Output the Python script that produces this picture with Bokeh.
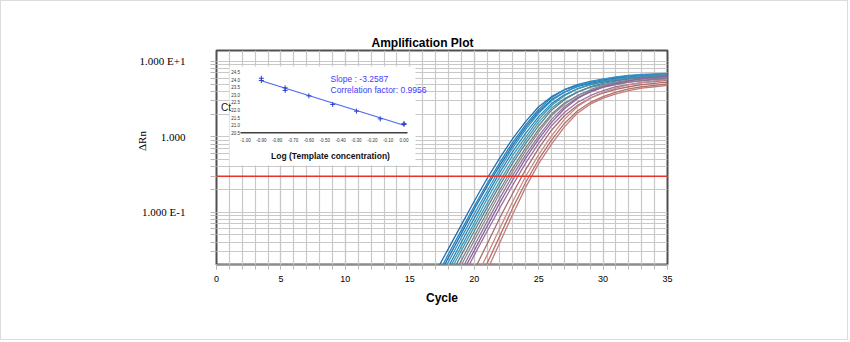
import numpy as np
from bokeh.plotting import figure
from bokeh.models import (Range1d, LinearScale, FixedTicker, SingleIntervalTicker,
                          Span, Title)
from bokeh.core.properties import value
from bokeh.embed import file_html
from bokeh.resources import INLINE

# ---------------- data ----------------
TITLE = "Amplification Plot"
X_LABEL = "Cycle"
Y_LABEL = "ΔRn"
X_TICKS = [0, 5, 10, 15, 20, 25, 30, 35]
Y_TICKS = [0.1, 1, 10]
Y_TICK_LABELS = ["1.000 E-1", "1.000", "1.000 E+1"]
THRESHOLD = 0.3

CYCLES = list(range(16, 36))
CURVE_01 = [0.0075, 0.016, 0.033, 0.068, 0.14, 0.28, 0.53, 0.95, 1.6, 2.5, 3.4, 4.2, 4.8, 5.3, 5.7, 6.0, 6.2, 6.4, 6.5, 6.6]
CURVE_02 = [0.0065, 0.013, 0.028, 0.058, 0.12, 0.24, 0.46, 0.85, 1.45, 2.3, 3.3, 4.2, 4.9, 5.4, 5.8, 6.1, 6.4, 6.6, 6.7, 6.8]
CURVE_03 = [0.006, 0.012, 0.025, 0.052, 0.11, 0.22, 0.42, 0.78, 1.35, 2.15, 3.1, 3.9, 4.6, 5.1, 5.5, 5.8, 6.0, 6.1, 6.2, 6.3]
CURVE_04 = [0.005, 0.011, 0.022, 0.046, 0.095, 0.19, 0.38, 0.72, 1.25, 2.05, 3.0, 3.9, 4.7, 5.3, 5.8, 6.2, 6.5, 6.7, 6.8, 6.9]
CURVE_05 = [0.0045, 0.0095, 0.019, 0.04, 0.083, 0.17, 0.34, 0.64, 1.12, 1.85, 2.75, 3.6, 4.3, 4.9, 5.3, 5.6, 5.9, 6.0, 6.1, 6.2]
CURVE_06 = [0.004, 0.008, 0.017, 0.035, 0.072, 0.15, 0.30, 0.57, 1.0, 1.7, 2.6, 3.5, 4.3, 4.9, 5.4, 5.8, 6.1, 6.3, 6.5, 6.6]
CURVE_07 = [0.0035, 0.007, 0.015, 0.031, 0.064, 0.13, 0.26, 0.5, 0.9, 1.55, 2.4, 3.2, 3.9, 4.5, 4.9, 5.3, 5.6, 5.8, 5.9, 6.0]
CURVE_08 = [0.003, 0.006, 0.013, 0.027, 0.056, 0.115, 0.23, 0.45, 0.82, 1.4, 2.25, 3.1, 3.9, 4.6, 5.1, 5.5, 5.8, 6.1, 6.3, 6.4]
CURVE_09 = [0.0025, 0.0052, 0.011, 0.023, 0.048, 0.1, 0.2, 0.39, 0.72, 1.25, 2.0, 2.8, 3.5, 4.1, 4.6, 5.0, 5.3, 5.5, 5.7, 5.8]
CURVE_10 = [0.0022, 0.0046, 0.0095, 0.02, 0.042, 0.087, 0.18, 0.35, 0.65, 1.15, 1.9, 2.7, 3.5, 4.2, 4.8, 5.2, 5.6, 5.9, 6.1, 6.2]
CURVE_11 = [0.0018, 0.0038, 0.008, 0.017, 0.036, 0.075, 0.155, 0.31, 0.58, 1.02, 1.7, 2.5, 3.3, 3.9, 4.5, 4.9, 5.3, 5.6, 5.8, 5.9]
CURVE_12 = [0.0015, 0.0032, 0.007, 0.015, 0.031, 0.065, 0.135, 0.27, 0.52, 0.93, 1.55, 2.35, 3.2, 4.0, 4.6, 5.1, 5.5, 5.9, 6.1, 6.3]
CURVE_13 = [0.0012, 0.0026, 0.0057, 0.0125, 0.027, 0.056, 0.115, 0.23, 0.45, 0.82, 1.4, 2.1, 2.85, 3.5, 4.1, 4.6, 4.9, 5.2, 5.4, 5.6]
CURVE_14 = [0.0008, 0.0016, 0.0035, 0.0075, 0.017, 0.038, 0.085, 0.18, 0.37, 0.7, 1.22, 1.9, 2.6, 3.25, 3.8, 4.25, 4.6, 4.9, 5.1, 5.3]
CURVE_15 = [0.0005, 0.001, 0.0022, 0.005, 0.012, 0.027, 0.062, 0.14, 0.3, 0.58, 1.03, 1.7, 2.5, 3.25, 3.9, 4.4, 4.9, 5.2, 5.5, 5.7]
CURVE_16 = [0.0004, 0.0008, 0.0017, 0.0038, 0.009, 0.021, 0.049, 0.115, 0.25, 0.5, 0.9, 1.5, 2.2, 2.85, 3.4, 3.9, 4.3, 4.6, 4.8, 5.0]
CURVE_17 = [0.0003, 0.0006, 0.0013, 0.003, 0.0072, 0.017, 0.04, 0.095, 0.215, 0.44, 0.8, 1.35, 2.05, 2.7, 3.25, 3.7, 4.1, 4.4, 4.6, 4.8]
CURVES = [CURVE_01, CURVE_02, CURVE_03, CURVE_04, CURVE_05, CURVE_06, CURVE_07, CURVE_08,
          CURVE_09, CURVE_10, CURVE_11, CURVE_12, CURVE_13, CURVE_14, CURVE_15, CURVE_16, CURVE_17]
CURVE_COLORS = ["#1f6fb0", "#2a80c0", "#1a78a8", "#3b8fc8", "#2786b4", "#3a98b8", "#4a9aa8", "#5a7f9a",
                "#7d7d7d", "#8c8c8c", "#8a7a98", "#8e63a0", "#a0709a", "#a86c6c", "#c98a8e", "#b5705e", "#c07a82"]

# inset: standard curve
LOG_CONC = [-0.9, -0.9, -0.75, -0.75, -0.6, -0.45, -0.3, -0.15, 0.0, 0.0]
CT_VALUES = [24.1, 23.95, 23.47, 23.3, 22.94, 22.37, 21.93, 21.42, 21.05, 21.12]
SLOPE_TEXT = "Slope : -3.2587"
CORR_TEXT = "Correlation factor: 0.9956"
INSET_X_LABEL = "Log (Template concentration)"
INSET_Y_LABEL = "Ct"
INSET_X_TICKS = [-1.0, -0.9, -0.8, -0.7, -0.6, -0.5, -0.4, -0.3, -0.2, -0.1, 0.0]
INSET_X_TICK_LABELS = ["-1.00", "-0.90", "-0.80", "-0.70", "-0.60", "-0.50", "-0.40", "-0.30", "-0.20", "-0.10", "0.00"]
INSET_Y_TICKS = [20.5, 21.0, 21.5, 22.0, 22.5, 23.0, 23.5, 24.0, 24.5]
INSET_Y_TICK_LABELS = ["20.5", "21.0", "21.5", "22.0", "22.5", "23.0", "23.5", "24.0", "24.5"]

# ---------------- figure ----------------
GRID = "#c8c8c8"
p = figure(width=848, height=340,
           x_range=Range1d(0, 35), y_range=Range1d(0.0203, 13.9), y_axis_type="log",
           output_backend="svg", toolbar_location=None,
           min_border_left=215, min_border_right=182, min_border_top=49, min_border_bottom=77)
p.title = Title(text=TITLE, align="left", offset=155, standoff=2,
                text_font="Liberation Sans", text_font_size="12px", text_font_style="bold",
                text_color="#000000")
p.styles = {"border": "1px solid #dcdcdc"}
p.background_fill_color = "white"
p.border_fill_color = "white"
p.outline_line_color = "#505050"
p.outline_line_width = 2

xt = SingleIntervalTicker(interval=5, num_minor_ticks=5)
Y_MINOR = [m * 10.0 ** e for e in (-2, -1, 0, 1) for m in range(2, 10)]
yt = FixedTicker(ticks=Y_TICKS, minor_ticks=Y_MINOR)
p.xaxis.ticker = xt
p.yaxis.ticker = yt
p.xgrid.ticker = xt
p.ygrid.ticker = yt
for g in (p.xgrid, p.ygrid):
    g.grid_line_color = GRID
    g.grid_line_width = 1.2
    g.minor_grid_line_color = GRID
    g.minor_grid_line_width = 1.2

for ax in (p.xaxis, p.yaxis):
    ax.axis_line_color = None
    ax.major_tick_line_color = "#b8b8b8"
    ax.minor_tick_line_color = "#b8b8b8"
    ax.major_tick_in = 0
    ax.minor_tick_in = 0
    ax.major_label_text_color = "#000000"

p.xaxis.major_tick_out = 5
p.xaxis.minor_tick_out = 5
p.xaxis.major_label_standoff = 6
p.xaxis.major_label_text_font = "Liberation Sans"
p.xaxis.major_label_text_font_size = "9px"
p.xaxis.axis_label = X_LABEL
p.xaxis.axis_label_text_font = "Liberation Sans"
p.xaxis.axis_label_text_font_size = "12px"
p.xaxis.axis_label_text_font_style = "bold"
p.xaxis.axis_label_text_color = "#000000"
p.xaxis.axis_label_standoff = 6

p.yaxis.major_tick_out = 6
p.yaxis.minor_tick_out = 6
p.yaxis.major_label_standoff = 25
p.yaxis.major_label_text_font = "Liberation Serif"
p.yaxis.major_label_text_font_size = "11px"
p.yaxis.major_label_overrides = dict(zip(Y_TICKS, Y_TICK_LABELS))
# leading no-break spaces move the rotated label up so it sits beside "1.000"
p.yaxis.axis_label = "\u00a0" * 12 + Y_LABEL
p.yaxis.axis_label_text_font = "Liberation Serif"
p.yaxis.axis_label_text_font_size = "11px"
p.yaxis.axis_label_text_font_style = "normal"
p.yaxis.axis_label_text_color = "#000000"
p.yaxis.axis_label_standoff = -11

# inset coordinate system (linear scales)
p.extra_x_ranges = {"ix": Range1d(-1.183, 1.6625)}
p.extra_y_ranges = {"iy": Range1d(11.807, 25.932)}
p.extra_x_scales = {"ix": LinearScale()}
p.extra_y_scales = {"iy": LinearScale()}

# amplification curves
for vals, col in zip(CURVES, CURVE_COLORS):
    p.line(CYCLES, vals, line_color=col, line_width=1.3)

p.add_layout(Span(location=THRESHOLD, dimension="width", line_color="#e8322c", line_width=1.5))

# inset panel
IK = dict(x_range_name="ix", y_range_name="iy")
p.quad(left=-1.101, right=0.0726, top=24.876, bottom=18.342, fill_color="white", line_color=None, **IK)
p.line([-1.0315, 0.022], [INSET_Y_TICKS[0], INSET_Y_TICKS[0]], line_color="#404040", line_width=1.5, **IK)

coef = np.polyfit(LOG_CONC, CT_VALUES, 1)
fx = [min(LOG_CONC), max(LOG_CONC)]
p.line(fx, [coef[0] * v + coef[1] for v in fx], line_color="#4a66f0", line_width=1.1, **IK)
p.scatter(LOG_CONC, CT_VALUES, marker="cross", size=5, line_color="#2a40d0", line_width=1, **IK)

p.text(x=[-1.063] * len(INSET_Y_TICKS), y=INSET_Y_TICKS, text=INSET_Y_TICK_LABELS,
       text_font=value("Liberation Sans"), text_font_size=value("4.5px"), text_color="#333333",
       text_align="center", text_baseline="middle", **IK)
p.text(x=INSET_X_TICKS, y=[20.04] * len(INSET_X_TICKS), text=INSET_X_TICK_LABELS,
       text_font=value("Liberation Sans"), text_font_size=value("4.5px"), text_color="#333333",
       text_align="center", text_baseline="middle", **IK)
p.text(x=[-0.4637, -0.4637], y=[24.02, 23.34], text=[SLOPE_TEXT, CORR_TEXT],
       text_font=value("Liberation Sans"), text_font_size=value("8.5px"), text_color="#3c3cff",
       text_align="left", text_baseline="middle", **IK)
p.text(x=[-0.4637], y=[19.0], text=[INSET_X_LABEL],
       text_font=value("Liberation Sans"), text_font_size=value("8.5px"), text_font_style="bold",
       text_color="#111111", text_align="center", text_baseline="middle", **IK)
p.text(x=[-1.123], y=[22.17], text=[INSET_Y_LABEL],
       text_font=value("Liberation Sans"), text_font_size=value("10px"), text_color="#111111",
       text_align="center", text_baseline="middle", **IK)

open("out.html", "w").write(file_html(p, INLINE))
